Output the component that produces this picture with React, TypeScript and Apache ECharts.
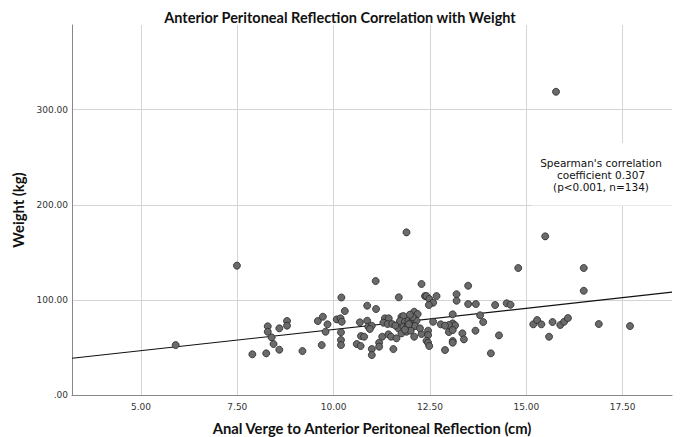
import React, { useEffect, useRef } from "react";
import * as echarts from "echarts";

const titleText = "Anterior Peritoneal Reflection Correlation with Weight";
const xAxisName = "Anal Verge to Anterior Peritoneal Reflection (cm)";
const yAxisName = "Weight (kg)";
const annotationLines = ["Spearman's correlation", "coefficient 0.307", "(p<0.001, n=134)"];

const xTicks = [5, 7.5, 10, 12.5, 15, 17.5];
const yTicks = [0, 100, 200, 300];
const xRange = [3.21, 18.78];
const yRange = [0, 389];

// fit line
const fitIntercept = 24.3;
const fitSlope = 4.46;

const distance = [
  5.9, 7.49, 7.89, 8.25, 8.29, 8.29, 8.39, 8.44, 8.59, 8.59,
  8.79, 8.79, 9.19, 9.59, 9.72, 9.84, 9.79, 9.69, 10.08, 10.18,
  10.21, 10.19, 10.19, 10.19, 10.2, 10.29, 10.87, 11.1, 10.68, 10.87,
  10.9, 10.99, 10.94, 10.71, 10.79, 10.6, 10.7, 10.99, 10.99, 11.18,
  11.18, 11.09, 11.33, 11.43, 11.29, 11.4, 11.52, 11.26, 11.42, 11.49,
  11.63, 11.55, 11.76, 11.81, 12.09, 12.18, 11.72, 11.85, 11.94, 12.0,
  12.09, 12.15, 11.68, 11.81, 11.92, 12.04, 12.11, 11.76, 11.89, 12.0,
  12.09, 12.28, 12.24, 12.45, 12.45, 12.41, 12.45, 12.48, 12.58, 12.78,
  12.89, 11.89, 11.69, 12.28, 12.37, 12.41, 12.48, 12.67, 12.58, 12.47,
  13.19, 13.19, 13.49, 13.49, 13.69, 14.19, 14.49, 14.59, 14.79, 15.49,
  15.77, 16.49, 16.49, 15.18, 15.28, 15.39, 15.59, 15.68, 15.88, 15.98,
  16.08, 16.88, 17.69, 13.8, 13.88, 13.68, 14.08, 14.29, 13.34, 13.38,
  13.09, 13.09, 13.15, 12.99, 12.89, 12.99, 13.09, 13.09, 13.09, 11.95,
  11.85, 12.05, 11.6, 11.98,
];

const weight = [
  52.5, 136, 42.8, 43.8, 72.2, 66.5, 60.6, 53.6, 70.1, 47.6,
  77.8, 72.9, 46.2, 77.8, 82.3, 74.3, 66.5, 52.5, 79.5, 80.6,
  77, 65.9, 57.8, 52.5, 102.5, 88.3, 93.9, 90.4, 76.4, 78.1,
  71.8, 72.8, 69.4, 62, 61.3, 53.6, 51.5, 48.3, 42, 55,
  50.8, 119.8, 80.6, 80.6, 76, 74.6, 74.6, 61.3, 63.8, 61.3,
  59.6, 48.3, 82.3, 83, 87.5, 85.1, 77.8, 77, 78.1, 76,
  79.5, 78.1, 70.1, 71.8, 72.8, 71.8, 72.5, 64.8, 66.5, 67.6,
  61.3, 64.1, 70.1, 67.6, 63, 57, 55, 51.5, 77, 74.3,
  47.3, 171, 102.7, 116.7, 104, 104, 100.9, 104, 97, 94.6,
  106, 99.1, 114.9, 95.6, 95.6, 94.6, 96.4, 94.9, 133.5, 166.8,
  318.8, 133.5, 109.6, 74.3, 78.8, 74.3, 61.3, 76.7, 73.6, 77,
  80.9, 74.6, 72.5, 83.8, 76.7, 67.6, 43.8, 62.7, 64.8, 58.5,
  84.8, 75.3, 73.2, 73.6, 72.9, 66.2, 68.3, 56.8, 55, 74.5,
  68.5, 82, 73, 84.5,
];

const FONT = "Lato, 'Liberation Sans', sans-serif";
const FONT2 = "'DejaVu Sans', sans-serif";

function fmt(v: number): string {
  const s = v.toFixed(2);
  return s.startsWith("0.") ? s.slice(1) : s;
}

export default function App() {
  const ref = useRef<HTMLDivElement>(null);
  useEffect(() => {
    if (!ref.current) return;
    const chart = echarts.init(ref.current, undefined, { renderer: "svg" });
    const points = distance.map((d, i) => [d, weight[i]]);
    const fitLine = xRange.map((x) => [x, fitIntercept + fitSlope * x]);
    chart.setOption({
      animation: false,
      backgroundColor: "#ffffff",
      title: {
        text: titleText,
        left: "center",
        top: 5,
        textStyle: { fontFamily: FONT, fontSize: 14.5, fontWeight: "bold", color: "#111" },
      },
      grid: { left: 72, right: 8, top: 25, bottom: 42, outerBoundsMode: "none", containLabel: false },
      xAxis: {
        type: "value",
        min: xRange[0],
        max: xRange[1],
        name: xAxisName,
        nameLocation: "middle",
        nameGap: 25,
        nameTextStyle: { fontFamily: FONT, fontSize: 14.8, fontWeight: "bold", color: "#111" },
        axisLine: { show: true, lineStyle: { color: "#888", width: 1 } },
        axisTick: { show: false, customValues: xTicks },
        axisLabel: {
          customValues: xTicks,
          formatter: (v: number) => fmt(v),
          fontFamily: FONT2,
          fontSize: 9,
          color: "#333",
          margin: 7,
        },
        splitLine: { show: true, lineStyle: { color: "#d4d4d4", width: 1 } },
      },
      yAxis: {
        type: "value",
        min: yRange[0],
        max: yRange[1],
        name: yAxisName,
        nameLocation: "middle",
        nameGap: 46,
        nameTextStyle: { fontFamily: FONT, fontSize: 14.8, fontWeight: "bold", color: "#111" },
        axisLine: { show: true, lineStyle: { color: "#888", width: 1 } },
        axisTick: { show: false, customValues: yTicks },
        axisLabel: {
          customValues: yTicks,
          formatter: (v: number) => fmt(v),
          fontFamily: FONT2,
          fontSize: 9,
          color: "#333",
          margin: 4,
        },
        splitLine: { show: true, lineStyle: { color: "#d4d4d4", width: 1 } },
      },
      series: [
        {
          type: "line",
          data: fitLine,
          symbol: "none",
          silent: true,
          lineStyle: { color: "#111", width: 1.2 },
          z: 3,
        },
        {
          type: "scatter",
          data: points,
          symbolSize: 7,
          itemStyle: { color: "#6a6a6a", borderColor: "#2a2a2a", borderWidth: 0.8, opacity: 1 },
          z: 4,
        },
      ],
      graphic: [
        {
          type: "rect",
          left: 532,
          top: 143,
          shape: { width: 140, height: 62.5 },
          style: { fill: "#ffffff" },
          z: 10,
        },
        {
          type: "text",
          x: 601,
          y: 174.5,
          style: {
            text: annotationLines.join("\n"),
            fontFamily: FONT2,
            fontSize: 10.5,
            lineHeight: 12,
            fill: "#111",
            align: "center",
            verticalAlign: "middle",
          },
          z: 11,
        },
      ],
    });
    return () => chart.dispose();
  }, []);
  return <div ref={ref} style={{ width: 680, height: 437, position: "absolute", left: 0, top: 0 }} />;
}
